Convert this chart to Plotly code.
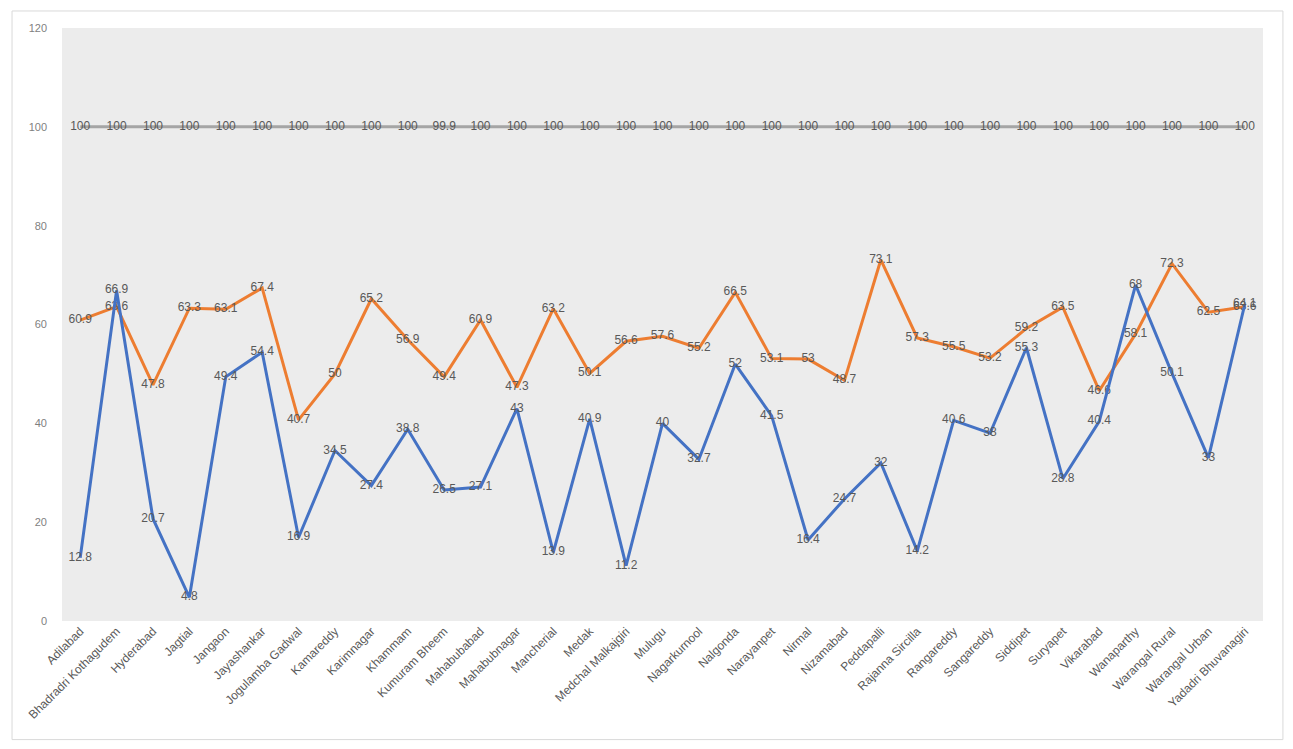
import plotly.graph_objects as go

districts = ["Adilabad", "Bhadradri Kothagudem", "Hyderabad", "Jagtial", "Jangaon", "Jayashankar",
             "Jogulamba Gadwal", "Kamareddy", "Karimnagar", "Khammam", "Kumuram Bheem", "Mahabubabad",
             "Mahabubnagar", "Mancherial", "Medak", "Medchal Malkajgiri", "Mulugu", "Nagarkurnool",
             "Nalgonda", "Narayanpet", "Nirmal", "Nizamabad", "Peddapalli", "Rajanna Sircilla",
             "Rangareddy", "Sangareddy", "Siddipet", "Suryapet", "Vikarabad", "Wanaparthy",
             "Warangal Rural", "Warangal Urban", "Yadadri Bhuvanagiri"]

series_blue = [12.8, 66.9, 20.7, 4.8, 49.4, 54.4, 16.9, 34.5, 27.4, 38.8, 26.5, 27.1, 43, 13.9, 40.9,
               11.2, 40, 32.7, 52, 41.5, 16.4, 24.7, 32, 14.2, 40.6, 38, 55.3, 28.8, 40.4, 68, 50.1,
               33, 64.1]
series_orange = [60.9, 63.6, 47.8, 63.3, 63.1, 67.4, 40.7, 50, 65.2, 56.9, 49.4, 60.9, 47.3, 63.2, 50.1,
                 56.6, 57.6, 55.2, 66.5, 53.1, 53, 48.7, 73.1, 57.3, 55.5, 53.2, 59.2, 63.5, 46.6, 58.1,
                 72.3, 62.5, 63.6]
series_gray = [100, 100, 100, 100, 100, 100, 100, 100, 100, 100, 99.9, 100, 100, 100, 100, 100, 100,
               100, 100, 100, 100, 100, 100, 100, 100, 100, 100, 100, 100, 100, 100, 100, 100]

y_ticks = [0, 20, 40, 60, 80, 100, 120]

label_font = dict(family="Liberation Sans, Arial, sans-serif", size=12, color="#595959")

fig = go.Figure()
for vals, color in [(series_gray, "#A5A5A5"), (series_orange, "#ED7D31"), (series_blue, "#4472C4")]:
    fig.add_trace(go.Scatter(
        x=districts, y=vals, mode="lines+text",
        line=dict(color=color, width=3),
        text=[f"{v:g}" for v in vals], textposition="middle center",
        textfont=label_font, showlegend=False, cliponaxis=False,
    ))

fig.update_layout(
    width=1277, height=733,
    margin=dict(l=54, r=22, t=20, b=120),
    paper_bgcolor="white",
    plot_bgcolor="#ececec",
    font=dict(family="Liberation Sans, Arial, sans-serif", size=11, color="#7f7f7f"),
    xaxis=dict(type="category", range=[-0.5, len(districts) - 0.5], tickangle=-45,
               showgrid=False, zeroline=False, showline=False, ticks="",
               automargin=False, tickfont=dict(size=12, color="#595959")),
    yaxis=dict(range=[0, 120], tickvals=y_ticks, showgrid=False, zeroline=False,
               showline=False, ticks="", automargin=False, ticklabelstandoff=14,
               tickfont=dict(size=11, color="#7f7f7f")),
    shapes=[dict(type="rect", xref="paper", yref="paper",
                 x0=-0.0416, x1=1.0166, y0=-0.200, y1=1.0287,
                 line=dict(color="#d9d9d9", width=1), layer="below")],
)

fig.write_html("out.html")
